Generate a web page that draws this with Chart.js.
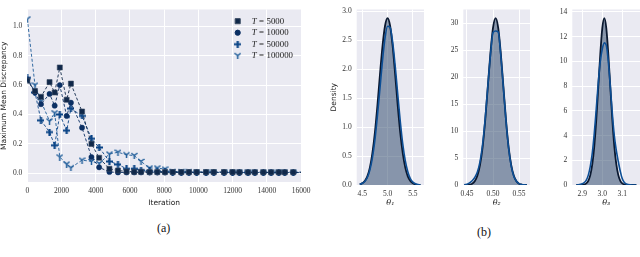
<!DOCTYPE html>
<html>
<head>
<meta charset="utf-8">
<script src="https://cdn.jsdelivr.net/npm/chart.js@4.4.1/dist/chart.umd.min.js"></script>
<style>
  body { margin: 0; background: #fff; width: 640px; height: 257px; overflow: hidden; position: relative; }
  canvas { position: absolute; top: 0; }
  .cap { position: absolute; font: 12px 'Liberation Serif', serif; color: #111; }
</style>
</head>
<body>
<canvas id="mmd" width="330" height="210" style="left:0"></canvas>
<canvas id="th1" width="100" height="210" style="left:330px"></canvas>
<canvas id="th2" width="95" height="210" style="left:440px"></canvas>
<canvas id="th3" width="92" height="210" style="left:548px"></canvas>
<div class="cap" style="left:157px;top:221px">(a)</div>
<div class="cap" style="left:477px;top:225px">(b)</div>

<script>
// ── (a) MMD vs iteration ──
const iterations = [0, 450, 800, 1300, 1600, 1900, 2300, 2550, 3200, 3750, 4200, 4800, 5300, 5800, 6250, 6650,
    7150, 7600, 8050, 8500, 9000, 9450, 9900, 10450, 10900, 11500, 12000, 12400, 12900, 13300, 13800, 14250,
    14700, 15050, 15550, 16300];
const mmdT5000 = [0.63, 0.56, 0.52, 0.62, 0.55, 0.72, 0.50, 0.61, 0.42, 0.20, 0.105, 0.03, 0.018, 0.012, 0.010, 0.010,
    0.008, 0.008, 0.008, 0.008, 0.007, 0.007, 0.007, 0.007, 0.007, 0.007, 0.007, 0.006, 0.006, 0.006, 0.006, 0.006,
    0.006, 0.006, 0.006, 0.006];
const mmdT10000 = [0.64, 0.55, 0.47, 0.54, 0.46, 0.60, 0.39, 0.48, 0.31, 0.11, 0.04, 0.008, 0.005, 0.005, 0.005, 0.005,
    0.004, 0.004, 0.004, 0.004, 0.004, 0.004, 0.004, 0.004, 0.004, 0.004, 0.004, 0.004, 0.004, 0.004, 0.004, 0.004,
    0.004, 0.004, 0.004, 0.004];
const mmdT50000 = [0.65, 0.55, 0.36, 0.28, 0.19, 0.40, 0.29, 0.44, 0.39, 0.235, 0.175, 0.08, 0.06, 0.03, 0.03, 0.02,
    0.015, 0.012, 0.010, 0.008, 0.007, 0.007, 0.006, 0.006, 0.006, 0.006, 0.006, 0.005, 0.005, 0.005, 0.005, 0.005,
    0.005, 0.005, 0.005, 0.005];
const mmdT100000 = [1.05, 0.60, 0.49, 0.355, 0.41, 0.11, 0.062, 0.037, 0.089, 0.08, 0.066, 0.13, 0.143, 0.125, 0.12, 0.08,
    0.035, 0.035, 0.028, 0.012, 0.010, 0.009, 0.008, 0.008, 0.008, 0.007, 0.007, 0.007, 0.007, 0.007, 0.007, 0.007,
    0.007, 0.007, 0.007, 0.007];
const mmdLabels = ['T = 5000', 'T = 10000', 'T = 50000', 'T = 100000'];
const mmdXTicks = [0, 2000, 4000, 6000, 8000, 10000, 12000, 14000, 16000];
const mmdYTicks = [0, 0.2, 0.4, 0.6, 0.8, 1.0];

// ── (b) posterior densities ──
const theta1Grid = [4.45, 4.5, 4.55, 4.6, 4.65, 4.7, 4.75, 4.8, 4.85, 4.9, 4.95, 5.0, 5.05, 5.1, 5.15, 5.2, 5.25,
    5.3, 5.35, 5.4, 5.45, 5.5, 5.55, 5.6, 5.65];
const theta1Black = [0.01, 0.03, 0.07, 0.15, 0.30, 0.55, 0.91, 1.38, 1.91, 2.40, 2.75, 2.88, 2.75, 2.40, 1.91, 1.38,
    0.91, 0.55, 0.30, 0.15, 0.07, 0.03, 0.01, 0, 0];
const theta1Blue = [0.01, 0.03, 0.06, 0.13, 0.26, 0.47, 0.78, 1.20, 1.67, 2.15, 2.54, 2.74, 2.72, 2.47, 2.06, 1.58,
    1.11, 0.71, 0.42, 0.23, 0.11, 0.05, 0.02, 0.01, 0];
const theta1XTicks = [4.5, 5.0, 5.5];
const theta1YTicks = [0, 0.5, 1.0, 1.5, 2.0, 2.5, 3.0];

const theta2Grid = [0.445, 0.45, 0.455, 0.46, 0.465, 0.47, 0.475, 0.48, 0.485, 0.49, 0.495, 0.5, 0.505, 0.51, 0.515,
    0.52, 0.525, 0.53, 0.535, 0.54, 0.545, 0.55, 0.555, 0.56, 0.565];
const theta2Black = [0, 0.02, 0.08, 0.25, 0.7, 1.7, 3.7, 7.0, 12.0, 18.2, 24.4, 29.2, 31, 29.2, 24.4, 18.2, 12.0, 7.0,
    3.7, 1.7, 0.7, 0.25, 0.08, 0.02, 0];
const theta2Blue = [0.03, 0.15, 0.4, 0.8, 1.4, 2.4, 4.3, 7.5, 12.3, 18.3, 24.0, 28.3, 28.6, 28.4, 24.0, 18.0, 11.8, 6.8,
    3.5, 1.6, 0.7, 0.25, 0.08, 0.02, 0];
const theta2XTicks = [0.45, 0.5, 0.55];
const theta2YTicks = [0, 5, 10, 15, 20, 25, 30];

const theta3Grid = [2.87, 2.88, 2.89, 2.9, 2.91, 2.92, 2.93, 2.94, 2.95, 2.96, 2.97, 2.98, 2.99, 3.0, 3.01, 3.02, 3.03,
    3.04, 3.05, 3.06, 3.07, 3.08, 3.09, 3.1, 3.11, 3.12, 3.13, 3.14, 3.15, 3.16, 3.17];
const theta3Black = [0, 0, 0.01, 0.02, 0.05, 0.13, 0.34, 0.80, 1.68, 3.15, 5.3, 7.95, 10.6, 12.7, 13.5, 12.7, 10.6, 7.95,
    5.3, 3.15, 1.68, 0.80, 0.34, 0.13, 0.05, 0.02, 0.01, 0, 0, 0, 0];
const theta3Blue = [0, 0.02, 0.05, 0.1, 0.2, 0.4, 0.8, 1.5, 2.6, 4.2, 6.2, 8.3, 10.0, 11.0, 11.5, 11.3, 10.0, 8.0, 5.8,
    4.0, 2.8, 1.9, 1.1, 0.5, 0.2, 0.08, 0.03, 0.01, 0, 0, 0];
const theta3XTicks = [2.9, 3.0, 3.1];
const theta3YTicks = [0, 2, 4, 6, 8, 10, 12, 14];

/* ── shared styling ── */
const BG = '#eaeaf2';
const TICK_FONT = { family: "'Liberation Serif', serif", size: 7.5 };
const LABEL_FONT = { family: "'DejaVu Sans', sans-serif", size: 7.5 };
const seriesColors = ['#10284a', '#0b2f63', '#0a4486', '#1e5c99'];

const plotBackground = {
    id: 'plotBackground',
    beforeDraw(chart) {
        const a = chart.chartArea, ctx = chart.ctx;
        ctx.save();
        ctx.fillStyle = BG;
        ctx.fillRect(a.left, a.top, a.right - a.left, a.bottom - a.top);
        ctx.restore();
    }
};

function fixedTicks(values) {
    return function (scale) { scale.ticks = values.map(v => ({ value: v })); };
}

// custom markers: thick plus and tri_down ("Y")
function makeMarker(kind, color) {
    const c = document.createElement('canvas');
    c.width = 7; c.height = 7;
    const g = c.getContext('2d');
    g.strokeStyle = color;
    g.lineCap = 'butt';
    if (kind === 'plus') {
        g.lineWidth = 2.2;
        g.beginPath();
        g.moveTo(0, 3.5); g.lineTo(7, 3.5);
        g.moveTo(3.5, 0); g.lineTo(3.5, 7);
        g.stroke();
    } else {
        g.lineWidth = 1.5;
        g.beginPath();
        g.moveTo(3.5, 3.5); g.lineTo(3.5, 7);
        g.moveTo(3.5, 3.5); g.lineTo(0.5, 1);
        g.moveTo(3.5, 3.5); g.lineTo(6.5, 1);
        g.stroke();
    }
    return c;
}

const pointStyles = ['rect', 'circle', makeMarker('plus', seriesColors[2]), makeMarker('tri', seriesColors[3])];
const pointRadii = [3.6, 2.6, 3.5, 3.5];
const mmdSeries = [mmdT5000, mmdT10000, mmdT50000, mmdT100000];

const insideLegend = {
    id: 'insideLegend',
    afterDraw(chart) {
        const ctx = chart.ctx, a = chart.chartArea;
        ctx.save();
        chart.data.datasets.forEach(function (ds, i) {
            const y = a.top + 11.7 + i * 11.5;
            const mx = a.right - 63.3;
            ctx.fillStyle = ds.pointBackgroundColor;
            ctx.strokeStyle = ds.pointBorderColor;
            Chart.helpers.drawPoint(ctx, {
                pointStyle: ds.pointStyle, radius: ds.pointRadius, rotation: 0, borderWidth: ds.pointBorderWidth
            }, mx, y);
            const parts = ds.label.split(' ');
            ctx.fillStyle = '#222';
            ctx.textBaseline = 'middle';
            ctx.font = "italic 8.8px 'Liberation Serif', serif";
            let x = mx + 14;
            ctx.fillText(parts[0], x, y);
            x += ctx.measureText(parts[0]).width + 2.5;
            ctx.font = "8.8px 'Liberation Serif', serif";
            ctx.fillText('=', x, y);
            x += ctx.measureText('=').width + 2.5;
            ctx.fillText(parts[2], x, y);
        });
        ctx.restore();
    }
};

new Chart(document.getElementById('mmd'), {
    type: 'line',
    data: {
        labels: iterations,
        datasets: mmdSeries.map(function (vals, i) {
            return {
                label: mmdLabels[i],
                data: vals.map((v, j) => ({ x: iterations[j], y: v })),
                borderColor: seriesColors[i],
                borderWidth: 0.9,
                borderDash: [3, 2],
                pointStyle: pointStyles[i],
                pointRadius: pointRadii[i],
                pointBackgroundColor: seriesColors[i],
                pointBorderColor: i === 0 ? '#3b4c63' : seriesColors[i],
                pointBorderWidth: i === 0 ? 0.6 : 0.5,
                tension: 0,
                order: i
            };
        })
    },
    options: {
        responsive: false,
        animation: false,
        layout: { padding: { top: 3, right: 29, left: 0, bottom: 0 } },
        plugins: { legend: { display: false }, tooltip: { enabled: false } },
        scales: {
            x: {
                type: 'linear', min: 0, max: 16000,
                afterBuildTicks: fixedTicks(mmdXTicks),
                afterFit: s => { s.height = 28; },
                grid: { color: '#fff', lineWidth: 1, drawTicks: false },
                border: { display: false },
                ticks: { font: TICK_FONT, color: '#333', padding: 5, maxRotation: 0, autoSkip: false,
                         callback: v => String(v) },
                title: { display: true, text: 'Iteration', font: LABEL_FONT, color: '#222', padding: { top: 0, bottom: 2 } }
            },
            y: {
                min: -0.06, max: 1.115,
                afterBuildTicks: fixedTicks(mmdYTicks),
                afterFit: s => { s.width = 27.3; },
                grid: { color: '#fff', lineWidth: 1, drawTicks: false },
                border: { display: false },
                ticks: { font: TICK_FONT, color: '#333', padding: 5, callback: v => v.toFixed(1) },
                title: { display: true, text: 'Maximum Mean Discrepancy', font: LABEL_FONT, color: '#222', padding: { top: 0, bottom: 0 } }
            }
        }
    },
    plugins: [plotBackground, insideLegend]
});

/* ── density panels ── */
function initDensityChart(canvasId, grid, black, blue, cfg) {
    const pts = arr => arr.map((v, j) => ({ x: grid[j], y: v }));
    return new Chart(document.getElementById(canvasId), {
        type: 'line',
        data: {
            datasets: [
                { data: pts(blue), borderColor: '#0d4f96', borderWidth: 1.6, pointRadius: 0,
                  cubicInterpolationMode: 'monotone', fill: false, order: 0 },
                { data: pts(black), borderColor: '#0a1830', borderWidth: 1.8, pointRadius: 0,
                  cubicInterpolationMode: 'monotone', fill: false, order: 1 },
                { data: pts(black), borderWidth: 0, pointRadius: 0, borderColor: 'rgba(0,0,0,0)',
                  backgroundColor: 'rgba(36, 64, 100, 0.5)', cubicInterpolationMode: 'monotone',
                  fill: 'origin', order: 2 }
            ]
        },
        options: {
            responsive: false,
            animation: false,
            layout: { padding: { top: 1, right: cfg.padRight, left: 0, bottom: 0 } },
            plugins: { legend: { display: false }, tooltip: { enabled: false } },
            scales: {
                x: {
                    type: 'linear', min: cfg.xMin, max: cfg.xMax,
                    afterBuildTicks: fixedTicks(cfg.xTicks),
                    afterFit: s => { s.height = 25; },
                    grid: { color: '#fff', lineWidth: 1, drawTicks: false },
                    border: { display: false },
                    ticks: { font: TICK_FONT, color: '#333', padding: 5, maxRotation: 0, autoSkip: false,
                             callback: v => v.toFixed(cfg.xDigits) },
                    title: { display: true, text: cfg.xTitle, color: '#222',
                             font: { family: "'DejaVu Serif', serif", size: 8, style: 'italic' },
                             padding: { top: 0, bottom: 2 } }
                },
                y: {
                    min: 0, max: cfg.yMax,
                    afterBuildTicks: fixedTicks(cfg.yTicks),
                    afterFit: s => { s.width = cfg.yWidth; },
                    grid: { color: '#fff', lineWidth: 1, drawTicks: false },
                    border: { display: false },
                    ticks: { font: TICK_FONT, color: '#333', padding: 5, callback: v => v.toFixed(cfg.yDigits) },
                    title: { display: !!cfg.yTitle, text: cfg.yTitle, font: LABEL_FONT, color: '#222',
                             padding: { top: 0, bottom: 0 } }
                }
            }
        },
        plugins: [plotBackground]
    });
}

initDensityChart('th1', theta1Grid, theta1Black, theta1Blue, {
    xMin: 4.39, xMax: 5.72, xTicks: theta1XTicks, xDigits: 1, xTitle: '\u03b8\u2081',
    yMax: 3.03, yTicks: theta1YTicks, yDigits: 1, yTitle: 'Density', yWidth: 26.7, padRight: 6
});
initDensityChart('th2', theta2Grid, theta2Black, theta2Blue, {
    xMin: 0.443, xMax: 0.571, xTicks: theta2XTicks, xDigits: 2, xTitle: '\u03b8\u2082',
    yMax: 32.6, yTicks: theta2YTicks, yDigits: 0, yTitle: '', yWidth: 23.3, padRight: 5
});
initDensityChart('th3', theta3Grid, theta3Black, theta3Blue, {
    xMin: 2.85, xMax: 3.1885, xTicks: theta3XTicks, xDigits: 1, xTitle: '\u03b8\u2083',
    yMax: 14.2, yTicks: theta3YTicks, yDigits: 0, yTitle: '', yWidth: 24.3, padRight: 0
});
</script>
</body>
</html>
